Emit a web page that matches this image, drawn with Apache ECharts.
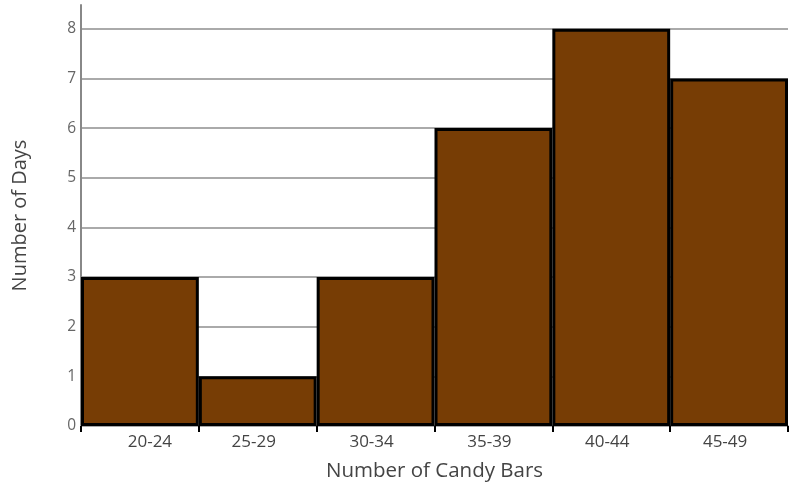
<!DOCTYPE html>
<html>
<head>
<meta charset="utf-8">
<script src="https://cdn.jsdelivr.net/npm/echarts@6/dist/echarts.min.js"></script>
<style>
html,body{margin:0;padding:0;background:#fff;}
#chart{width:801px;height:487px;}
</style>
</head>
<body>
<div id="chart"></div>
<script>
const categories = ['20-24', '25-29', '30-34', '35-39', '40-44', '45-49'];
const days = [3, 1, 3, 6, 8, 7];
const yTicks = [0, 1, 2, 3, 4, 5, 6, 7, 8];

const chart = echarts.init(document.getElementById('chart'));
const gridColors = yTicks.map(() => '#aaaaaa').concat(['rgba(0,0,0,0)']);
const lblFont = { fontFamily: 'Open Sans', fontSize: 17, color: '#444' };
chart.setOption({
  animation: false,
  backgroundColor: '#ffffff',
  grid: { left: 81, right: 13, top: 5, bottom: 60, containLabel: false },
  xAxis: {
    type: 'category',
    data: categories,
    boundaryGap: true,
    name: 'Number of Candy Bars',
    nameLocation: 'middle',
    nameGap: 35,
    nameTextStyle: { fontFamily: 'Open Sans', fontSize: 20.5, color: '#444' },
    axisLine: { show: true, lineStyle: { color: '#aaaaaa', width: 2 } },
    axisTick: { show: true, alignWithLabel: false, length: 6, lineStyle: { color: '#000', width: 2 } },
    axisLabel: {
      fontFamily: 'Open Sans', fontSize: 17, color: '#444', margin: 8,
      formatter: (v, i) => i === 0 ? '{a|' + v + '}' : '{b|' + v + '}',
      rich: {
        a: Object.assign({ padding: [0, 0, 0, 20] }, lblFont),
        b: Object.assign({ padding: [0, 8, 0, 0] }, lblFont)
      }
    },
    splitLine: { show: false }
  },
  yAxis: {
    type: 'value',
    min: 0,
    max: 8.48,
    interval: 1,
    name: 'Number of Days',
    nameLocation: 'middle',
    nameGap: 51,
    nameRotate: 90,
    nameTextStyle: { fontFamily: 'Open Sans', fontSize: 20, color: '#444' },
    axisLine: { show: true, lineStyle: { color: '#888888', width: 2 } },
    axisTick: { show: false },
    axisLabel: {
      fontFamily: 'Open Sans', fontSize: 15.5, color: '#666', margin: 5,
      formatter: v => (Number.isInteger(v) && yTicks.includes(v)) ? String(v) : ''
    },
    splitLine: { show: true, lineStyle: { color: gridColors, width: 2 } }
  },
  series: [{
    type: 'bar',
    data: days,
    barCategoryGap: '0%',
    itemStyle: { color: '#773d05', borderColor: '#000', borderWidth: 3 }
  }]
});
</script>
</body>
</html>
